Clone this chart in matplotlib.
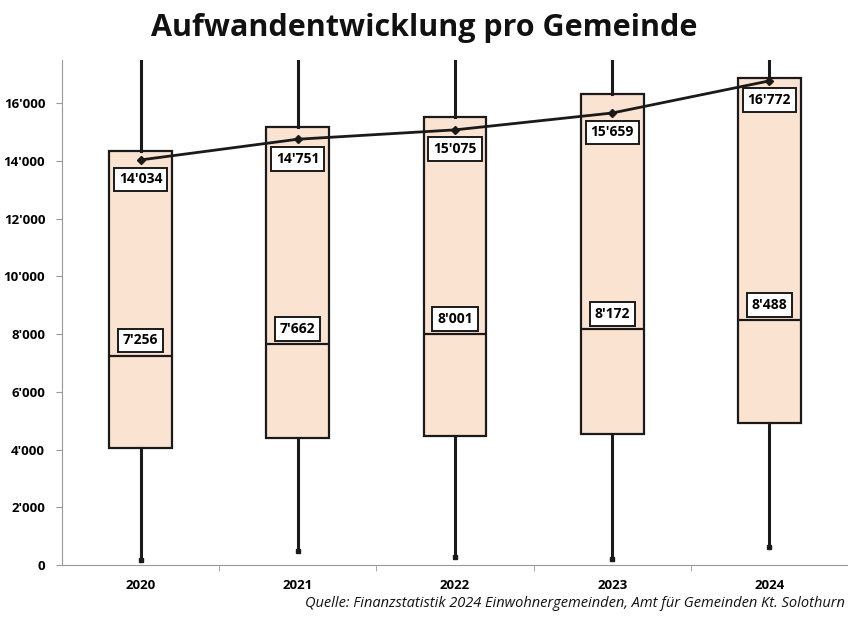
import matplotlib.pyplot as plt
from matplotlib.ticker import FuncFormatter, FixedLocator

plt.rcParams['font.family'] = ['Open Sans', 'DejaVu Sans']

years = ['2020', '2021', '2022', '2023', '2024']
q1 = [4050, 4410, 4480, 4550, 4930]
median = [7256, 7662, 8001, 8172, 8488]
q3 = [14330, 15170, 15520, 16320, 16875]
mean = [14034, 14751, 15075, 15659, 16772]
whis_lo = [170, 480, 300, 210, 640]
whis_hi = [30000, 30000, 30000, 30000, 30000]


def fmt(v):
    return f'{int(round(v)):,}'.replace(',', "'")


fig = plt.figure(figsize=(8.48, 6.17), dpi=100)
ax = fig.add_axes([0.073, 0.084, 0.927, 0.819])

stats = []
for i in range(len(years)):
    stats.append({'q1': q1[i], 'med': median[i], 'q3': q3[i],
                  'whislo': whis_lo[i], 'whishi': whis_hi[i],
                  'mean': mean[i], 'fliers': []})

pos = list(range(len(years)))
ax.bxp(stats, positions=pos, widths=0.4, patch_artist=True, showcaps=False,
       showfliers=False,
       boxprops=dict(facecolor='#fbe3d2', edgecolor='#1a1a1a', linewidth=1.6),
       medianprops=dict(color='#1a1a1a', linewidth=1.6),
       whiskerprops=dict(color='#1a1a1a', linewidth=2.2))

ax.plot(pos, mean, color='#1a1a1a', linewidth=2, marker='D', markersize=4, zorder=5)
ax.plot(pos, whis_lo, linestyle='none', marker='s', markersize=3, color='#1a1a1a')

bbox = dict(boxstyle='square,pad=0.35', facecolor='white', edgecolor='#1a1a1a', linewidth=1.4)
for i in pos:
    ax.annotate(fmt(mean[i]), (i, mean[i]), xytext=(0, -14), textcoords='offset points',
                ha='center', va='center', fontsize=10, fontweight='bold', bbox=bbox, zorder=6)
    ax.annotate(fmt(median[i]), (i, median[i]), xytext=(0, 11), textcoords='offset points',
                ha='center', va='center', fontsize=10, fontweight='bold', bbox=bbox, zorder=6)

ax.set_xlim(-0.5, 4.5)
ax.set_ylim(0, 17500)
ax.set_xticks(pos)
ax.set_xticklabels(years, fontsize=9.5, fontweight='bold')
ax.tick_params(axis='x', length=0, pad=10)
ax.xaxis.set_minor_locator(FixedLocator([0.5, 1.5, 2.5, 3.5]))
ax.tick_params(axis='x', which='minor', length=4, color='#999999')
ax.set_yticks(range(0, 17000, 2000))
ax.yaxis.set_major_formatter(FuncFormatter(lambda v, p: fmt(v)))
ax.tick_params(axis='y', labelsize=9.5, length=4, color='#999999', pad=8)
for lab in ax.get_yticklabels():
    lab.set_fontweight('bold')

for s in ['top', 'right']:
    ax.spines[s].set_visible(False)
for s in ['left', 'bottom']:
    ax.spines[s].set_color('#999999')

fig.text(0.5, 0.955, 'Aufwandentwicklung pro Gemeinde', ha='center', va='center',
         fontsize=22, fontweight='bold', color='#111111')
fig.text(0.996, 0.022, 'Quelle: Finanzstatistik 2024 Einwohnergemeinden, Amt für Gemeinden Kt. Solothurn',
         ha='right', va='center', fontsize=10.5, style='italic', color='#111111')

fig.savefig('out.png', dpi=100)
